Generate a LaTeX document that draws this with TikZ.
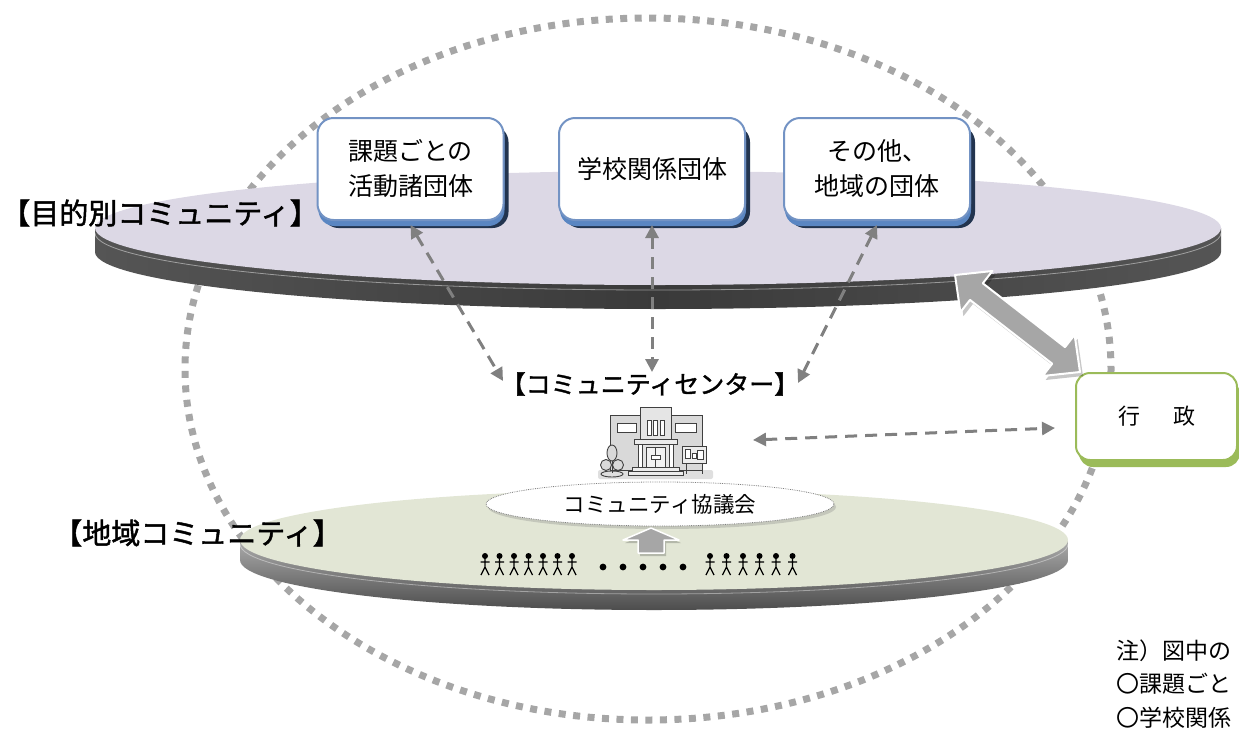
\documentclass[tikz,border=0pt]{standalone}
\usepackage{fontspec}
\setmainfont{Noto Sans CJK JP}
\newfontfamily\jpb[FakeBold=1.5]{Noto Sans CJK JP}
\usetikzlibrary{arrows.meta,shapes.geometric,shadows,calc}
\definecolor{dotgray}{HTML}{A6A6A6}
\definecolor{dashgray}{HTML}{808080}
\definecolor{lav}{HTML}{DCD8E5}
\definecolor{sage}{HTML}{E2E6D5}
\definecolor{rimdark}{HTML}{3A3A3A}
\definecolor{rimend}{HTML}{555555}
\definecolor{boxblue}{HTML}{7393C4}
\definecolor{bevelblue}{HTML}{5A86C2}
\definecolor{navyshadow}{HTML}{22344F}
\definecolor{grnb}{HTML}{9BBB59}
\definecolor{blockgray}{HTML}{A6A6A6}
\definecolor{bldg}{HTML}{404040}
\begin{document}
\begin{tikzpicture}[x=1pt,y=-1pt,
  grpbox/.style={draw=boxblue, line width=2pt, fill=white, rounded corners=16pt,
    minimum width=186pt, minimum height=102pt, align=center, inner sep=0pt,
    font=\fontsize{25}{35}\selectfont,
    general shadow={shadow xshift=5pt, shadow yshift=-8pt, fill=navyshadow},
    general shadow={shadow xshift=1pt, shadow yshift=-6pt, fill=bevelblue}},
  govbox/.style={draw=grnb, line width=2pt, fill=white, rounded corners=14pt,
    minimum width=161pt, minimum height=87pt, inner sep=0pt,
    font=\fontsize{22}{26}\selectfont,
    general shadow={shadow xshift=3pt, shadow yshift=-7pt, fill=grnb}},
  biglabel/.style={inner sep=0pt, font=\jpb\fontsize{29}{29}\selectfont},
  darr/.style={draw=dashgray, line width=3pt, dash pattern=on 12pt off 8pt,
    {Triangle[length=13pt,width=13pt]}-{Triangle[length=13pt,width=13pt]}},
  blockarrow/.style={fill=blockgray, draw=white, line width=2pt, line join=round}
]
\useasboundingbox (0,0) rectangle (1239,731);

% big dotted ellipse
\draw[dotgray, line width=7pt, dash pattern=on 7pt off 7.5pt] (648,369) ellipse [x radius=463, y radius=351];

% upper disc
\path[left color=rimend, right color=rimend, middle color=rimdark]
  (95,228) -- (95,252) arc[start angle=180, end angle=0, x radius=563, y radius=57] -- (1221,228) -- cycle;
\draw[white, opacity=.45, line width=0.8pt] (95,233) arc[start angle=180, end angle=0, x radius=563, y radius=57];
\fill[lav] (658,228) ellipse [x radius=563, y radius=57];

% lower disc
\path[top color=gray!65, bottom color=gray!60!black]
  (240,540) -- (240,560) arc[start angle=180, end angle=0, x radius=414, y radius=50] -- (1068,540) -- cycle;
\draw[white, opacity=.4, line width=0.8pt] (240,544) arc[start angle=180, end angle=0, x radius=414, y radius=50];
\fill[sage] (654,540) ellipse [x radius=414, y radius=50];

% group boxes
\node[grpbox] (g1) at (410.5,169) {課題ごとの\\活動諸団体};
\node[grpbox] (g2) at (652,169) {学校関係団体};
\node[grpbox] (g3) at (877,169) {その他、\\地域の団体};

% administration box
\node[govbox] (gov) at (1156.5,416.5) {行\hspace{33pt}政};

% labels
\node[biglabel] (lblp) at (160,213) {【目的別コミュニティ】};
\node[biglabel] (lbla) at (197.5,533) {【地域コミュニティ】};
\node[inner sep=0pt, font=\jpb\fontsize{25}{25}\selectfont] (lblc) at (650,384) {【コミュニティセンター】};

% building
\begin{scope}[draw=bldg, line width=0.9pt]
\fill[gray!25, rounded corners=2pt] (598,470) rectangle (713,479);
\filldraw[fill=gray!30] (610,415) rectangle (702,470);
\filldraw[fill=gray!20] (640,407) rectangle (671,470);
\foreach \wx in {647,653.5,660} \filldraw[fill=white] (\wx,420) rectangle ++(4,15);
\filldraw[fill=white] (617,423) rectangle (636,432);
\filldraw[fill=white] (675,423) rectangle (696,432);
\filldraw[fill=gray!15] (634,439) rectangle (677,444);
\filldraw[fill=white] (638,444) rectangle (642,467);
\filldraw[fill=white] (669,444) rectangle (673,467);
\filldraw[fill=gray!10] (646,447) rectangle (665,467);
\draw (655.5,447) -- (655.5,467);
\filldraw[fill=white] (651,455) rectangle (660,459);
\filldraw[fill=gray!15] (632,467) rectangle (679,471);
\filldraw[fill=gray!15] (628,471) rectangle (683,475);
\filldraw[fill=gray!25] (612,474) ellipse[x radius=11, y radius=3];
\draw (612,460) -- (612,473);
\filldraw[fill=gray!30] (612,453) ellipse[x radius=5, y radius=8];
\filldraw[fill=gray!30] (606,465) circle[radius=5.5];
\filldraw[fill=gray!30] (618,465) circle[radius=5.5];
\draw (686,463) -- (686,474) (702,463) -- (702,474);
\filldraw[fill=gray!15] (682,446) rectangle (706,463);
\filldraw[fill=white] (685,449) rectangle (690,458);
\filldraw[fill=white] (692,453) rectangle (696,458);
\filldraw[fill=white] (697,450) rectangle (703,459);
\end{scope}

% council ellipse
\node[ellipse, draw=gray, densely dotted, line width=0.8pt, fill=white,
  minimum width=348pt, minimum height=44pt, inner sep=0pt,
  drop shadow={opacity=.3, shadow xshift=2pt, shadow yshift=-3pt},
  font=\fontsize{21.5}{22}\selectfont] (kyogi) at (660,504) {コミュニティ協議会};

% people
\foreach \px in {485,499.5,514,528.5,543,557.5,572,710,726.5,743,759.5,776,792.5}{
  \fill (\px,556) circle[radius=3];
  \draw[line width=1.3pt] (\px,558) -- (\px,567) (\px-4.5,562) -- (\px+4.5,562)
    (\px-4,575) -- (\px,567) -- (\px+4,575);
}
\foreach \px in {603,623,643,663,683} \fill (\px,567) circle[radius=3.4];

% up block arrow (people -> council)
\fill[black, opacity=.2] (653,531) -- (681,543) -- (666,543) -- (666,556) -- (640,556) -- (640,543) -- (625,543) -- cycle;
\filldraw[blockarrow, line width=1.5pt] (651,528) -- (679,540) -- (664,540) -- (664,553) -- (638,553) -- (638,540) -- (623,540) -- cycle;

% dashed connectors
\coordinate (c1) at (503,381);
\coordinate (c2) at (652,372);
\coordinate (c3) at (798,383);
\coordinate (h1) at (753,440);
\coordinate (h2) at (1055,428);
\draw[darr] ([yshift=-4pt]g1.south) -- (c1);
\draw[darr] ([yshift=-4pt]g2.south) -- (c2);
\draw[darr] ([yshift=-4pt]g3.south) -- (c3);
\draw[darr] (h1) -- (h2);

% big double arrow (purpose community <-> administration)
\fill[black, opacity=.22, shift={(3,4)}] (955,275) -- (960.4,312.2) -- (970.0,299.9) -- (1052.2,363.7) -- (1042.6,376.0) -- (1080,372) -- (1074.6,334.8) -- (1065.0,347.1) -- (982.8,283.3) -- (992.4,271.0) -- cycle;
\filldraw[blockarrow] (955,275) -- (960.4,312.2) -- (970.0,299.9) -- (1052.2,363.7) -- (1042.6,376.0) -- (1080,372) -- (1074.6,334.8) -- (1065.0,347.1) -- (982.8,283.3) -- (992.4,271.0) -- cycle;

% note
\node[anchor=west, align=left, inner sep=0pt, font=\fontsize{23}{33.5}\selectfont] (note) at (1116,684) {注）図中の\\〇課題ごと\\〇学校関係};
\end{tikzpicture}
\end{document}
